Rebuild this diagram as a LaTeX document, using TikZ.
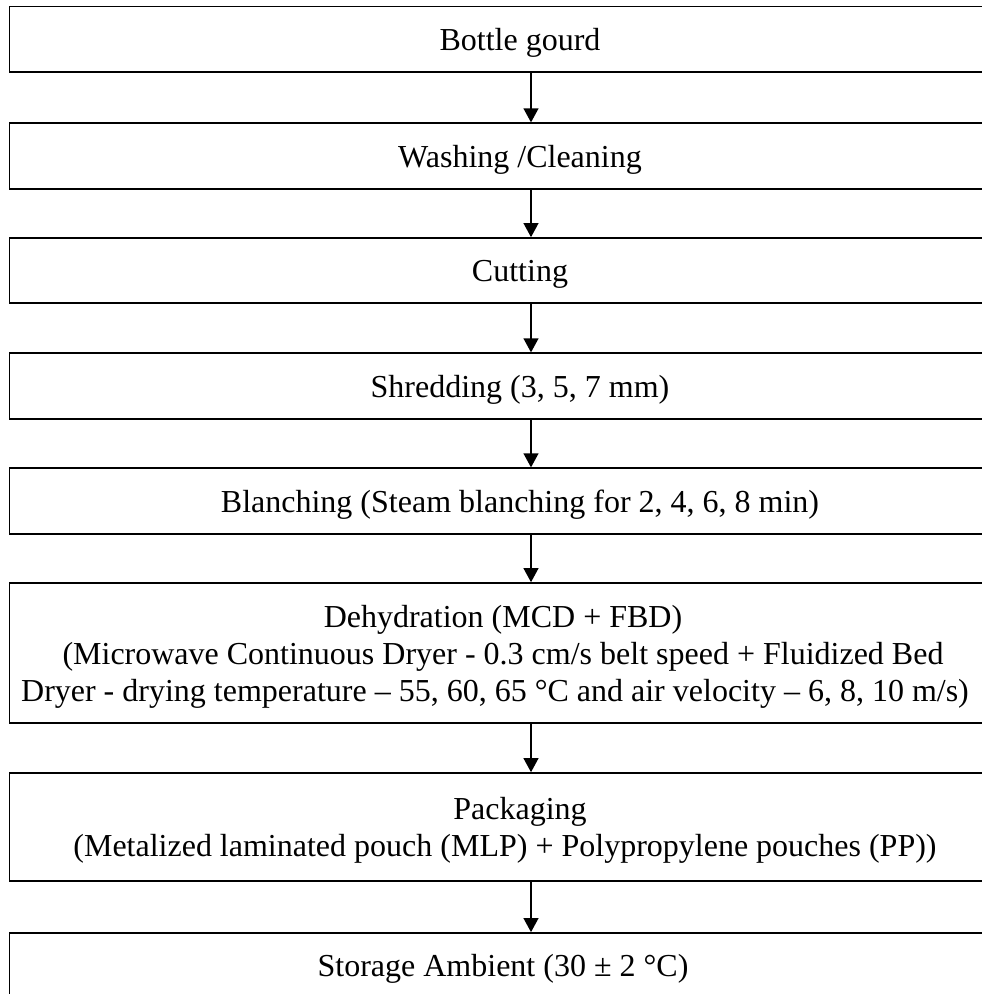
\documentclass[tikz,border=0pt]{standalone}
\usepackage{fontspec}
\setmainfont{Liberation Serif}
\usepackage{tikz}
\usetikzlibrary{arrows.meta}

\newcommand{\padline}[2]{\hbox{#2\hskip#1}}

\tikzset{
    stepbox/.style={draw, line width=0.6pt, minimum width=382.9pt, inner sep=0pt,
        align=center, text depth=0pt, font=\fontsize{12pt}{13.9pt}\selectfont},
    flow/.style={line width=0.6pt, -{Triangle[length=5.3pt, width=5.6pt]}}
}

\begin{document}
\begin{tikzpicture}[x=0.375pt, y=-0.375pt]
        \useasboundingbox (0,0) rectangle (982,994);

        \node[stepbox, minimum height=24.6pt] (gourd) at (520, 39.25) {Bottle gourd};
        \node[stepbox, minimum height=24.6pt] (washing) at (520, 156) {Washing /Cleaning};
        \node[stepbox, minimum height=24.4pt] (cutting) at (520, 270.5) {Cutting};
        \node[stepbox, minimum height=24.6pt] (shredding) at (520, 386) {Shredding (3, 5, 7 mm)};
        \node[stepbox, minimum height=24.6pt] (blanching) at (520, 501) {Blanching (Steam blanching for 2, 4, 6, 8 min)};
        \node[stepbox, minimum height=52.5pt] (dehydration) at (520, 653)
            {\padline{12.75pt}{Dehydration (MCD + FBD)}\\
             \padline{12.75pt}{(Microwave Continuous Dryer - 0.3 cm/s belt speed + Fluidized Bed}\\
             \padline{18.75pt}{Dryer - drying temperature -- 55, 60, 65 °C and air velocity -- 6, 8, 10 m/s)}};
        \node[stepbox, minimum height=40.5pt] (packaging) at (520, 827)
            {Packaging\\
             \padline{11.25pt}{(Metalized laminated pouch (MLP) + Polypropylene pouches (PP))}};
        \node[stepbox, minimum height=24.6pt] (storage) at (520, 965.75) {\padline{12.75pt}{Storage Ambient (30 ± 2 °C)}};

        \coordinate (ax) at (531, 0);
        \draw[flow] (gourd.south -| ax) -- (washing.north -| ax);
        \draw[flow] (washing.south -| ax) -- (cutting.north -| ax);
        \draw[flow] (cutting.south -| ax) -- (shredding.north -| ax);
        \draw[flow] (shredding.south -| ax) -- (blanching.north -| ax);
        \draw[flow] (blanching.south -| ax) -- (dehydration.north -| ax);
        \draw[flow] (dehydration.south -| ax) -- (packaging.north -| ax);
        \draw[flow] (packaging.south -| ax) -- (storage.north -| ax);
    \end{tikzpicture}
\end{document}
